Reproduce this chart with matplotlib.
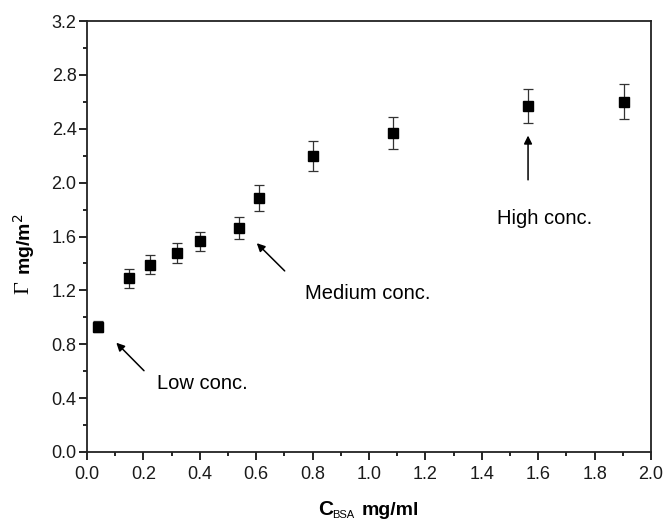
import matplotlib.pyplot as plt
from matplotlib.ticker import MultipleLocator

plt.rcParams['font.family'] = ['Liberation Sans', 'DejaVu Sans']

# BSA concentration (mg/ml) vs adsorbed amount (mg/m2)
conc = [0.038, 0.15, 0.222, 0.32, 0.40, 0.539, 0.611, 0.80, 1.084, 1.564, 1.904]
gamma = [0.93, 1.29, 1.39, 1.48, 1.565, 1.665, 1.885, 2.20, 2.37, 2.57, 2.60]
gamma_err = [0.04, 0.07, 0.07, 0.075, 0.07, 0.08, 0.095, 0.11, 0.12, 0.125, 0.13]

W, H = 666, 522
fig = plt.figure(figsize=(W / 100, H / 100), dpi=100)
ax = fig.add_axes([87 / W, 70 / H, 564 / W, 431 / H])

ax.errorbar(conc, gamma, yerr=gamma_err, fmt='s', color='black', ms=6.5,
            ecolor='#333333', elinewidth=0.9, capsize=3.5, capthick=0.9)

ax.set_xlim(0, 2.0)
ax.set_ylim(0, 3.2)
ax.xaxis.set_major_locator(MultipleLocator(0.2))
ax.xaxis.set_minor_locator(MultipleLocator(0.1))
ax.yaxis.set_major_locator(MultipleLocator(0.4))
ax.yaxis.set_minor_locator(MultipleLocator(0.2))
ax.tick_params(which='both', direction='out', top=False, right=False,
               labelsize=13, width=1.2, labelcolor='#1a1a1a')
ax.tick_params(which='major', length=6)
ax.tick_params(which='minor', length=3)
ax.tick_params(axis='x', which='major', pad=4)
ax.tick_params(axis='y', which='major', pad=1.5)
for s in ax.spines.values():
    s.set_linewidth(1.3)
    s.set_color('#222222')
ax.xaxis.set_major_formatter(lambda v, p: f'{v:.1f}')
ax.yaxis.set_major_formatter(lambda v, p: f'{v:.1f}')

# x label: C_BSA mg/ml (pieces placed by hand so sizes can differ)
fig.text(318 / W, 1 - 515 / H, 'C', fontsize=15, fontweight='bold', va='baseline')
fig.text(332 / W, 1 - 518 / H, 'BSA', fontsize=8, va='baseline')
fig.text(362 / W, 1 - 515 / H, 'mg/ml', fontsize=14, fontweight='bold', va='baseline')

# y label: Γ mg/m²
fig.text(24 / W, 1 - 288 / H, 'Γ', family=['Liberation Serif', 'DejaVu Serif'],
         fontsize=16, rotation=90, ha='center', va='center')
fig.text(24 / W, 1 - 244 / H, 'mg/m$^{2}$', fontsize=14, fontweight='bold',
         rotation=90, ha='center', va='center')

arrow = dict(arrowstyle='-|>', color='black', lw=1.1, mutation_scale=12)
ax.annotate('', xy=(0.097, 0.826), xytext=(0.209, 0.589), arrowprops=arrow)
ax.text(0.247, 0.51, 'Low conc.', fontsize=14.5, va='center', ha='left')
ax.annotate('', xy=(0.595, 1.565), xytext=(0.708, 1.33), arrowprops=arrow)
ax.text(0.773, 1.18, 'Medium conc.', fontsize=14.5, va='center', ha='left')
ax.annotate('', xy=(1.564, 2.37), xytext=(1.564, 2.0), arrowprops=arrow)
ax.text(1.624, 1.735, 'High conc.', fontsize=14.5, va='center', ha='center')

plt.savefig('out.png', dpi=100)
